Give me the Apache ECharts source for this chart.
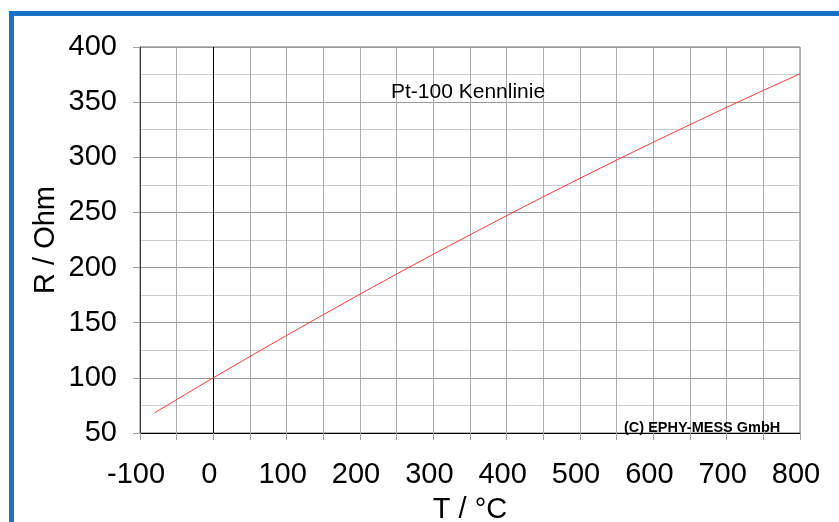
<!DOCTYPE html>
<html>
<head>
<meta charset="utf-8">
<script src="https://cdn.jsdelivr.net/npm/echarts@6/dist/echarts.min.js"></script>
<style>
html,body{margin:0;padding:0;background:#fff;}
#chart{width:839px;height:522px;}
</style>
</head>
<body>
<div id="chart"></div>
<script>
// Data (Pt-100 characteristic)
const temperatures = [-80, -50, 0, 50, 100, 150, 200, 250, 300, 350, 400, 450, 500, 550, 600, 650, 700, 750, 800];
const resistances = [68.3, 80.3, 100.0, 119.4, 138.5, 157.3, 175.9, 194.1, 212.1, 229.7, 247.1, 264.2, 281.0, 297.5, 313.7, 329.6, 345.3, 360.6, 375.7];
const chartTitle = 'Pt-100 Kennlinie';
const copyrightText = '(C) EPHY-MESS GmbH';
const xAxisName = 'T / °C';
const yAxisName = 'R / Ohm';

const FONT = '"Liberation Sans", Arial, sans-serif';
const chart = echarts.init(document.getElementById('chart'));
const seriesData = temperatures.map((t, i) => [t, resistances[i]]);

chart.setOption({
  animation: false,
  backgroundColor: '#ffffff',
  grid: {
    left: 140, right: 39, top: 47, bottom: 89,
    outerBoundsMode: 'none', containLabel: false,
    show: true, borderColor: '#707070', borderWidth: 1, backgroundColor: 'transparent'
  },
  xAxis: {
    type: 'value', min: -100, max: 800, interval: 50,
    name: xAxisName, nameLocation: 'middle', nameGap: 62, nameMoveOverlap: false,
    nameTextStyle: { fontFamily: FONT, fontSize: 29, color: '#000' },
    axisLine: { show: true, onZero: false, lineStyle: { color: '#000', width: 1 } },
    axisTick: { show: true, length: 7, lineStyle: { color: '#a0a0a0' } },
    axisLabel: {
      fontFamily: FONT, fontSize: 29, color: '#000', margin: 27, padding: [0, 8, 0, 0],
      formatter: v => (v % 100 === 0 ? String(v) : '')
    },
    splitLine: { show: true, lineStyle: { color: '#acacac', width: 1 } }
  },
  yAxis: {
    type: 'value', min: 50, max: 400, interval: 50,
    name: yAxisName, nameLocation: 'middle', nameGap: 80, nameMoveOverlap: false,
    nameTextStyle: { fontFamily: FONT, fontSize: 29, color: '#000' },
    axisLine: { show: true, onZero: false, lineStyle: { color: '#404040', width: 1 } },
    axisTick: { show: true, length: 7, lineStyle: { color: '#a0a0a0' } },
    axisLabel: { fontFamily: FONT, fontSize: 29, color: '#000', margin: 23 },
    splitLine: { show: true, lineStyle: { color: '#9a9a9a', width: 1 } },
    minorTick: { show: false, splitNumber: 2 },
    minorSplitLine: { show: true, lineStyle: { color: '#cdcdcd', width: 1 } }
  },
  series: [{
    type: 'line',
    data: seriesData,
    showSymbol: false,
    symbol: 'none',
    lineStyle: { color: '#ff3b3b', width: 1 },
    z: 5,
    markLine: {
      silent: true, symbol: 'none', label: { show: false },
      lineStyle: { color: '#000', width: 1, type: 'solid' },
      data: [{ xAxis: 0 }]
    }
  }],
  graphic: [
    {
      type: 'rect', silent: true, z: 100,
      shape: { x: 11.5, y: 13.5, width: 1200, height: 1200 },
      style: { fill: null, stroke: '#1872c8', lineWidth: 5 }
    },
    {
      type: 'text', z: 100, left: 391, top: 82,
      style: { text: chartTitle, font: '21px ' + FONT, fill: '#000' }
    },
    {
      type: 'text', z: 100, left: 624, top: 420,
      style: { text: copyrightText, font: 'bold 14.5px ' + FONT, fill: '#000' }
    }
  ]
});
</script>
</body>
</html>
